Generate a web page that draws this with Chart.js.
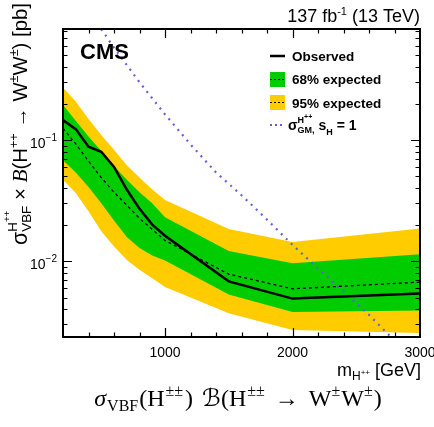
<!DOCTYPE html>
<html>
<head>
<meta charset="utf-8">
<script src="https://cdn.jsdelivr.net/npm/chart.js@4.4.1/dist/chart.umd.min.js"></script>
<style>
  html, body { margin: 0; padding: 0; background: #fff; }
  canvas { display: block; }
</style>
</head>
<body>
<canvas id="limitPlot" width="434" height="427"></canvas>
<script>
// mass points [GeV] and limits [pb]
const masses = [200, 300, 400, 500, 600, 700, 800, 900, 1000, 1500, 2000, 3000];
const observed = [0.146, 0.123, 0.088, 0.080, 0.060, 0.039, 0.027, 0.020, 0.0162, 0.0068, 0.0049, 0.0054];
const expected = [0.125, 0.093, 0.067, 0.049, 0.037, 0.029, 0.0225, 0.0183, 0.0148, 0.0078, 0.0059, 0.0067];
const band68Up = [0.195, 0.144, 0.107, 0.081, 0.061, 0.047, 0.037, 0.030, 0.023, 0.0121, 0.0096, 0.0114];
const band68Down = [0.068, 0.054, 0.041, 0.030, 0.0216, 0.0158, 0.0128, 0.0111, 0.0101, 0.0053, 0.0038, 0.0039];
const band95Up = [0.272, 0.208, 0.149, 0.110, 0.083, 0.062, 0.049, 0.039, 0.032, 0.0184, 0.0144, 0.0186];
const band95Down = [0.047, 0.0365, 0.0258, 0.0176, 0.0132, 0.0102, 0.0085, 0.0072, 0.0061, 0.0037, 0.0027, 0.00255];
// GM model cross section
const gmMasses = [500, 600, 800, 1000, 1200, 1400, 1600, 1800, 2000, 2200, 2400, 2600, 2800, 3000];
const gmXsec = [0.825, 0.579, 0.300, 0.163, 0.092, 0.054, 0.035, 0.022, 0.0136, 0.0087, 0.0056, 0.0036, 0.0022, 0.0014];
// axis labels
const xLabels = [1000, 2000, 3000];
const yLabels = [0.01, 0.1];
const yLabelExp = ['\u22122', '\u22121'];

const SANS = '"Liberation Sans", Arial, Helvetica, sans-serif';
const SERIF = '"Liberation Serif", "Times New Roman", serif';
const GREEN = '#00cc00';
const YELLOW = '#ffcc00';
const GMBLUE = '#6060d8';

const pts = (xs, ys) => xs.map((m, i) => ({ x: m, y: ys[i] }));

// tiny rich-text helper: items are {t, font, dy}, {gap} or {stack: [run, run]}
function runWidth(ctx, run) {
  let w = 0;
  for (const p of run) {
    if ('gap' in p) w += p.gap;
    else if (p.stack) w += Math.max(...p.stack.map(r => runWidth(ctx, r)));
    else { ctx.font = p.font; w += ctx.measureText(p.t).width; }
  }
  return w;
}
function drawRun(ctx, run, x, y) {
  for (const p of run) {
    if ('gap' in p) { x += p.gap; continue; }
    if (p.stack) {
      p.stack.forEach(r => drawRun(ctx, r, x, y));
      x += Math.max(...p.stack.map(r => runWidth(ctx, r)));
    } else {
      ctx.font = p.font;
      ctx.fillText(p.t, x, y + (p.dy || 0));
      x += ctx.measureText(p.t).width;
    }
  }
  return x;
}

const sans = (s, b) => (b ? 'bold ' : '') + s + 'px ' + SANS;

const yTitle = s => [
  { t: '\u03c3', font: sans(s * 1.05) },
  { stack: [
    [{ t: 'H', font: sans(s * 0.66), dy: -s * 0.5 }, { t: '++', font: sans(s * 0.48), dy: -s * 0.82 }],
    [{ t: 'VBF', font: sans(s * 0.66), dy: s * 0.22 }]
  ] },
  { t: ' \u00d7 ', font: sans(s) },
  { t: 'B', font: 'italic ' + (s * 1.05) + 'px ' + SERIF },
  { t: '(H', font: sans(s) },
  { t: '++', font: sans(s * 0.62), dy: -s * 0.45 },
  { t: ' \u2192 W', font: sans(s) },
  { t: '\u00b1', font: sans(s * 0.62), dy: -s * 0.45 },
  { t: 'W', font: sans(s) },
  { t: '\u00b1', font: sans(s * 0.62), dy: -s * 0.45 },
  { t: ') [pb]', font: sans(s) }
];

const xTitle = [
  { t: 'm', font: sans(18) },
  { t: 'H', font: sans(12), dy: 4 },
  { t: '++', font: sans(8), dy: -1 },
  { t: ' [GeV]', font: sans(18) }
];

const lumi = [
  { t: '137 fb', font: sans(18) },
  { t: '-1', font: sans(11), dy: -7 },
  { t: ' (13 TeV)', font: sans(18) }
];

const gmLegend = [
  { t: '\u03c3', font: sans(14, true) },
  { stack: [
    [{ t: 'H', font: sans(9, true), dy: -7 }, { t: '++', font: sans(7, true), dy: -11 }],
    [{ t: 'GM,', font: sans(9, true), dy: 3 }]
  ] },
  { t: ' s', font: sans(14, true) },
  { t: 'H', font: sans(9, true), dy: 5 },
  { t: ' = 1', font: sans(14, true) }
];

const CS = 24, SS = 16;
const cap = s => s + 'px ' + SERIF;
const caption = [
  { t: '\u03c3', font: 'italic ' + cap(CS) },
  { gap: 1 },
  { t: 'VBF', font: cap(SS), dy: 5 },
  { gap: 1 },
  { t: '(H', font: cap(CS) },
  { gap: 1 },
  { t: '\u00b1\u00b1', font: cap(SS), dy: -10 },
  { gap: 2 },
  { t: ')', font: cap(CS) },
  { gap: 9 },
  { t: '\u212c', font: CS + 'px "DejaVu Serif", "DejaVu Sans", serif' },
  { t: '(H', font: cap(CS) },
  { gap: 1 },
  { t: '\u00b1\u00b1', font: cap(SS), dy: -10 },
  { gap: 10 },
  { t: '\u2192', font: cap(CS) },
  { gap: 10 },
  { t: 'W', font: cap(CS) },
  { t: '\u00b1', font: cap(SS), dy: -10 },
  { gap: 1 },
  { t: 'W', font: cap(CS) },
  { t: '\u00b1', font: cap(SS), dy: -10 },
  { gap: 1 },
  { t: ')', font: cap(CS) }
];

const decorations = {
  id: 'decorations',
  beforeDraw(chart) {
    const ctx = chart.ctx;
    ctx.save();
    ctx.fillStyle = '#fff';
    ctx.fillRect(0, 0, chart.width, chart.height);
    ctx.restore();
  },
  afterDraw(chart) {
    const { ctx, chartArea: a, scales: { x, y } } = chart;
    ctx.save();
    ctx.strokeStyle = '#000';
    ctx.fillStyle = '#000';

    // ticks, pointing inwards on all four sides
    ctx.lineWidth = 1.2;
    ctx.beginPath();
    for (let m = 400; m < 3000; m += 200) {
      const px = Math.round(x.getPixelForValue(m)) + 0.5;
      const len = m % 1000 === 0 ? 9 : 4.5;
      ctx.moveTo(px, a.bottom); ctx.lineTo(px, a.bottom - len);
      ctx.moveTo(px, a.top); ctx.lineTo(px, a.top + len);
    }
    for (let e = -3; e <= 0; e++) {
      for (let k = 1; k <= 9; k++) {
        const v = k * Math.pow(10, e);
        if (v <= y.min || v >= y.max) continue;
        const py = Math.round(y.getPixelForValue(v)) + 0.5;
        const len = k === 1 ? 9 : 4.5;
        ctx.moveTo(a.left, py); ctx.lineTo(a.left + len, py);
        ctx.moveTo(a.right, py); ctx.lineTo(a.right - len, py);
      }
    }
    ctx.stroke();

    // frame
    ctx.lineWidth = 2;
    ctx.strokeRect(a.left, a.top, a.right - a.left, a.bottom - a.top);

    // tick labels
    ctx.textBaseline = 'alphabetic';
    ctx.font = sans(14);
    ctx.textAlign = 'center';
    xLabels.forEach(v => ctx.fillText(String(v), x.getPixelForValue(v), 357));
    ctx.textAlign = 'left';
    yLabels.forEach((v, i) => {
      const run = [{ t: '10', font: sans(14) }, { t: yLabelExp[i], font: sans(10), dy: -7 }];
      const w = runWidth(ctx, run);
      drawRun(ctx, run, 57 - w, y.getPixelForValue(v) + 8);
    });

    // axis titles
    const xw = runWidth(ctx, xTitle);
    drawRun(ctx, xTitle, 421 - xw, 376);
    ctx.save();
    ctx.translate(27, 124);
    ctx.rotate(-Math.PI / 2);
    const ys = 16 * 242 / runWidth(ctx, yTitle(16));
    const yRun = yTitle(ys);
    const yw = runWidth(ctx, yRun);
    drawRun(ctx, yRun, -yw / 2, 0);
    ctx.restore();

    // header
    const lw = runWidth(ctx, lumi);
    drawRun(ctx, lumi, 420 - lw, 22);
    ctx.font = sans(22, true);
    ctx.fillText('CMS', 80, 59);

    // legend
    const lx = 270, tx = 292;
    ctx.lineWidth = 2.5;
    ctx.beginPath(); ctx.moveTo(lx, 56); ctx.lineTo(lx + 15, 56); ctx.stroke();
    ctx.font = sans(13.5, true);
    ctx.fillText('Observed', tx, 61);
    [[GREEN, 72, '68% expected', 84], [YELLOW, 95, '95% expected', 108]].forEach(([c, by, label, ty]) => {
      ctx.fillStyle = c;
      ctx.fillRect(lx, by, 15, 15);
      ctx.strokeStyle = '#000';
      ctx.lineWidth = 1;
      ctx.setLineDash([2, 2]);
      ctx.beginPath(); ctx.moveTo(lx, by + 7.5); ctx.lineTo(lx + 15, by + 7.5); ctx.stroke();
      ctx.setLineDash([]);
      ctx.fillStyle = '#000';
      ctx.font = sans(13.5, true);
      ctx.fillText(label, tx, ty);
    });
    ctx.strokeStyle = GMBLUE;
    ctx.lineWidth = 2;
    ctx.setLineDash([2, 3]);
    ctx.beginPath(); ctx.moveTo(lx, 125); ctx.lineTo(lx + 15, 125); ctx.stroke();
    ctx.setLineDash([]);
    drawRun(ctx, gmLegend, 288, 130);

    // caption below the plot
    const cw = runWidth(ctx, caption);
    drawRun(ctx, caption, 238 - cw / 2, 406);
    ctx.restore();
  }
};

const noLine = 'rgba(0,0,0,0)';
new Chart(document.getElementById('limitPlot'), {
  type: 'line',
  data: {
    datasets: [
      { label: 'Observed', data: pts(masses, observed), borderColor: '#000', borderWidth: 2.5, pointRadius: 0, fill: false },
      { label: 'Median expected', data: pts(masses, expected), borderColor: '#000', borderWidth: 1.3, borderDash: [3, 3], pointRadius: 0, fill: false },
      { label: 'GM, sH = 1', data: pts(gmMasses, gmXsec), borderColor: GMBLUE, borderWidth: 2.2, borderDash: [2, 5], pointRadius: 0, fill: false },
      { label: '68% up', data: pts(masses, band68Up), borderColor: noLine, borderWidth: 0, backgroundColor: GREEN, pointRadius: 0, fill: '+1' },
      { label: '68% down', data: pts(masses, band68Down), borderColor: noLine, borderWidth: 0, pointRadius: 0, fill: false },
      { label: '95% up', data: pts(masses, band95Up), borderColor: noLine, borderWidth: 0, backgroundColor: YELLOW, pointRadius: 0, fill: '+1' },
      { label: '95% down', data: pts(masses, band95Down), borderColor: noLine, borderWidth: 0, pointRadius: 0, fill: false }
    ]
  },
  options: {
    responsive: false,
    animation: false,
    devicePixelRatio: 1,
    layout: { padding: { left: 63, right: 14, top: 29, bottom: 90 } },
    plugins: { legend: { display: false }, tooltip: { enabled: false } },
    elements: { line: { tension: 0 } },
    scales: {
      x: { type: 'linear', min: 200, max: 3000, display: false },
      y: { type: 'logarithmic', min: 0.00236, max: 0.826, display: false }
    }
  },
  plugins: [decorations]
});
</script>
</body>
</html>
